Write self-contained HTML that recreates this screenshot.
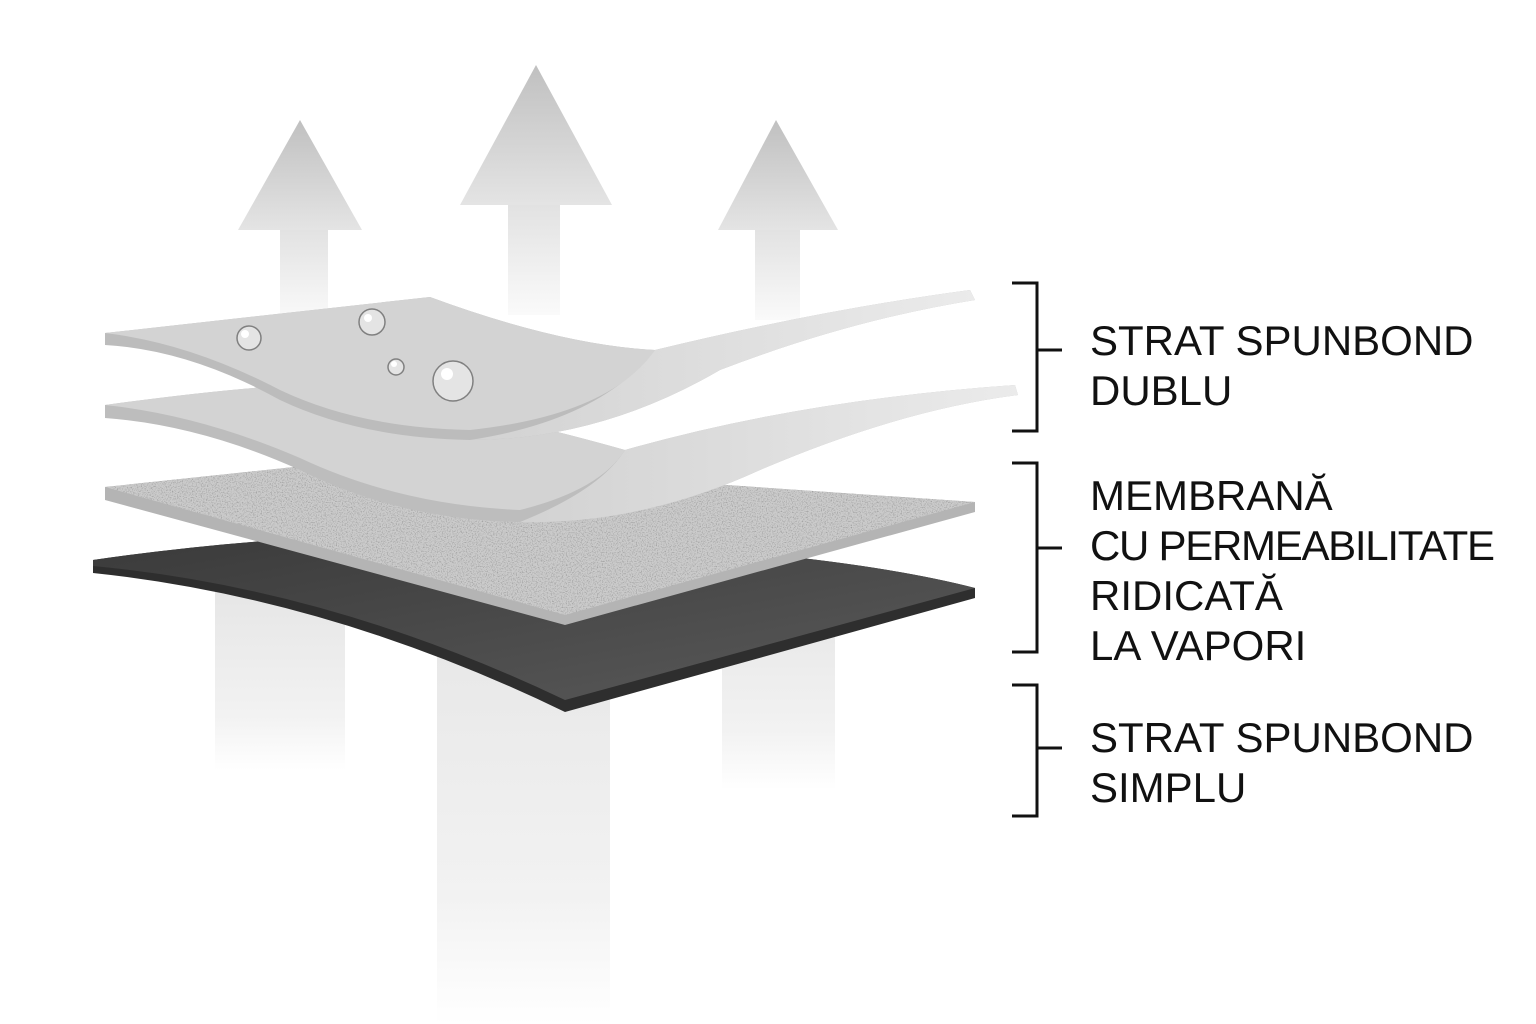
<!DOCTYPE html>
<html><head><meta charset="utf-8"><style>
html,body{margin:0;padding:0;background:#fff}
svg{display:block}
</style></head><body>
<svg width="1536" height="1024" viewBox="0 0 1536 1024" xmlns="http://www.w3.org/2000/svg">
<defs>
<linearGradient id="head" x1="0" y1="0" x2="0" y2="1"><stop offset="0" stop-color="#c0c0c0"/><stop offset="1" stop-color="#e4e4e4"/></linearGradient>
<linearGradient id="shaft" x1="0" y1="0" x2="0" y2="1"><stop offset="0" stop-color="#e2e2e2"/><stop offset="1" stop-color="#fafafa"/></linearGradient>
<linearGradient id="shaftb" x1="0" y1="0" x2="0" y2="1"><stop offset="0" stop-color="#e6e6e6"/><stop offset="0.7" stop-color="#f2f2f2"/><stop offset="1" stop-color="#ffffff"/></linearGradient>
<linearGradient id="dark" x1="0" y1="0" x2="1" y2="1"><stop offset="0" stop-color="#3a3a3a"/><stop offset="1" stop-color="#5a5a5a"/></linearGradient>
<linearGradient id="flap" x1="0" y1="0" x2="1" y2="0"><stop offset="0" stop-color="#d2d2d2"/><stop offset="1" stop-color="#ebebeb"/></linearGradient>
<filter id="noise" x="0" y="0" width="100%" height="100%"><feTurbulence type="fractalNoise" baseFrequency="0.8" numOctaves="2" seed="3"/><feColorMatrix values="0 0 0 0 0.3 0 0 0 0 0.3 0 0 0 0 0.3 0 0 0 2.5 -1.2"/><feComposite in2="SourceGraphic" operator="in"/></filter>
</defs>
<!-- arrows -->
<polygon points="300,120 362,230 238,230" fill="url(#head)"/>
<rect x="280" y="230" width="48" height="90" fill="url(#shaft)"/>
<polygon points="536,65 612,205 460,205" fill="url(#head)"/>
<rect x="508" y="205" width="52" height="110" fill="url(#shaft)"/>
<polygon points="776,120 838,230 718,230" fill="url(#head)"/>
<rect x="755" y="230" width="45" height="90" fill="url(#shaft)"/>
<rect x="215" y="590" width="130" height="180" fill="url(#shaftb)"/>
<rect x="437" y="600" width="173" height="424" fill="url(#shaftb)"/>
<rect x="722" y="590" width="113" height="200" fill="url(#shaftb)"/>
<!-- dark sheet -->
<path d="M93,560 Q300,530 480,536 Q820,548 975,588 L975,598 L565,712 Q330,598 93,573 Z" fill="#2e2e2e"/>
<path d="M93,560 Q300,530 480,536 Q820,548 975,588 L565,700 Q330,588 93,566 Z" fill="url(#dark)"/>
<!-- speckled sheet -->
<path d="M105,487 L360,460 L975,502 L975,512 L565,625 L105,500 Z" fill="#b4b4b4"/>
<path d="M105,487 L360,460 L975,502 L565,615 Z" fill="#cbcbcb"/>
<path d="M105,487 L360,460 L975,502 L565,615 Z" fill="#fff" filter="url(#noise)"/>
<!-- second sheet -->
<path d="M105,405 Q250,385 340,383 Q520,420 625,450 Q800,400 1015,385 L1018,395 Q900,410 760,470 Q640,525 520,522 Q400,520 300,470 Q200,425 105,418 Z" fill="#bdbdbd"/>
<path d="M625,450 Q800,400 1015,385 L1018,395 Q900,410 760,470 Q640,525 520,522 Q600,490 625,450 Z" fill="url(#flap)"/>
<path d="M105,405 Q250,385 340,383 Q520,420 625,450 Q600,490 520,510 Q400,505 300,458 Q200,415 105,405 Z" fill="#d3d3d3"/>
<!-- top sheet -->
<path d="M105,333 L430,297 Q560,345 655,350 Q820,310 970,290 L975,300 Q850,320 720,370 Q600,440 470,440 Q360,438 280,400 Q190,350 105,345 Z" fill="#bcbcbc"/>
<path d="M655,350 Q820,310 970,290 L975,300 Q850,320 720,370 Q600,440 470,440 Q600,420 655,350 Z" fill="url(#flap)"/>
<path d="M105,333 L430,297 Q560,345 655,350 Q610,415 470,430 Q360,428 280,390 Q190,343 105,333 Z" fill="#d3d3d3"/>
<!-- droplets -->
<g fill="#e4e4e4" stroke="#808080" stroke-width="1.5">
<circle cx="249" cy="338" r="12"/><circle cx="372" cy="322" r="13"/><circle cx="396" cy="367" r="8"/><circle cx="453" cy="381" r="20"/>
</g>
<g fill="#fff"><circle cx="245" cy="334" r="4"/><circle cx="368" cy="318" r="4"/><circle cx="394" cy="364" r="3"/><circle cx="447" cy="374" r="6"/></g>
<!-- brackets -->
<g stroke="#111" stroke-width="3" fill="none">
<path d="M1012,283 H1037 V431 H1012"/><path d="M1037,350 H1062"/>
<path d="M1012,463 H1037 V652 H1012"/><path d="M1037,548 H1062"/>
<path d="M1012,685 H1037 V816 H1012"/><path d="M1037,748 H1062"/>
</g>
<g font-family="Liberation Sans, sans-serif" font-size="42" fill="#111">
<text x="1090" y="355">STRAT SPUNBOND</text>
<text x="1090" y="405">DUBLU</text>
<text x="1090" y="510">MEMBRANĂ</text>
<text x="1090" y="560" textLength="405">CU PERMEABILITATE</text>
<text x="1090" y="610">RIDICATĂ</text>
<text x="1090" y="660">LA VAPORI</text>
<text x="1090" y="752">STRAT SPUNBOND</text>
<text x="1090" y="802">SIMPLU</text>
</g>
</svg>
</body></html>
